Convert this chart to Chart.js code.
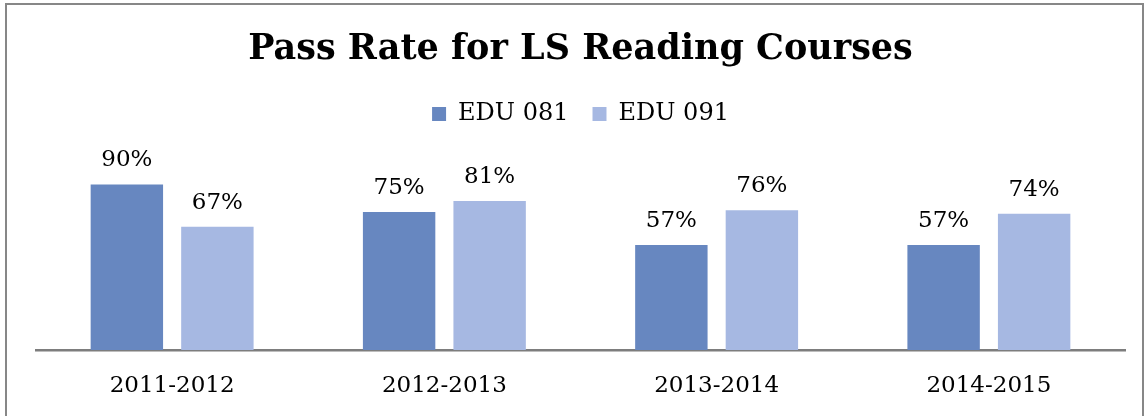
<!DOCTYPE html>
<html>
<head>
<meta charset="utf-8">
<script src="https://cdn.jsdelivr.net/npm/chart.js@4"></script>
<style>
  html, body { margin: 0; padding: 0; background: #fff; overflow: hidden; }
  #wrap { position: relative; width: 1146px; height: 416px; }
  #frame { position: absolute; left: 5px; top: 3px; width: 1135px; height: 430px; border: 2px solid #878787; pointer-events: none; }
  canvas { position: absolute; left: 0; top: 0; }
</style>
</head>
<body>
<div id="wrap">
  <canvas id="chart" width="1146" height="416"></canvas>
  <div id="frame"></div>
</div>
<script>
const categories = ['2011-2012', '2012-2013', '2013-2014', '2014-2015'];
const edu081 = [0.90, 0.75, 0.57, 0.57];
const edu091 = [0.67, 0.81, 0.76, 0.74];

const FONT = "'DejaVu Serif', serif";

// percent labels above each bar
const barLabels = {
  id: 'barLabels',
  afterDatasetsDraw(chart) {
    const ctx = chart.ctx;
    ctx.save();
    ctx.font = '23px ' + FONT;
    ctx.fillStyle = '#000';
    ctx.textAlign = 'center';
    ctx.textBaseline = 'alphabetic';
    chart.data.datasets.forEach((ds, i) => {
      chart.getDatasetMeta(i).data.forEach((bar, j) => {
        ctx.fillText(Math.round(ds.data[j] * 100) + '%', bar.x, bar.y - 18);
      });
    });
    ctx.restore();
  }
};

// extra room under the legend
const legendGap = {
  id: 'legendGap',
  beforeInit(chart) {
    const fit = chart.legend.fit;
    chart.legend.fit = function () {
      fit.bind(chart.legend)();
      this.height += 30;
    };
  }
};

new Chart(document.getElementById('chart'), {
  type: 'bar',
  data: {
    labels: categories,
    datasets: [
      { label: 'EDU 081', data: edu081, backgroundColor: '#6787c0' },
      { label: 'EDU 091', data: edu091, backgroundColor: '#a6b8e2' }
    ]
  },
  options: {
    responsive: false,
    animation: false,
    categoryPercentage: 0.665,
    barPercentage: 0.8,
    layout: { padding: { left: 36, right: 21, top: 0, bottom: 0 } },
    plugins: {
      title: {
        display: true,
        text: 'Pass Rate for LS Reading Courses',
        color: '#000',
        font: { family: FONT, size: 35, weight: 'bold' },
        padding: { top: 29, bottom: 7 }
      },
      legend: {
        display: true,
        position: 'top',
        labels: {
          color: '#000',
          font: { family: FONT, size: 24 },
          boxWidth: 14,
          boxHeight: 14,
          padding: 24
        }
      },
      tooltip: { enabled: false }
    },
    scales: {
      x: {
        grid: { display: false, drawTicks: false },
        border: { display: true, color: '#7d7d7d', width: 2.5 },
        ticks: { color: '#000', font: { family: FONT, size: 23 }, padding: 22 },
        afterFit(scale) { scale.height = 66; }
      },
      y: {
        display: false,
        min: 0,
        max: 1
      }
    }
  },
  plugins: [legendGap, barLabels]
});
</script>
</body>
</html>
